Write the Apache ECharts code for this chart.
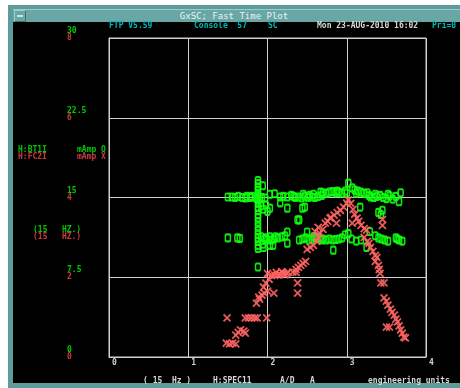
<!DOCTYPE html>
<html>
<head>
<meta charset="utf-8">
<script src="https://cdn.jsdelivr.net/npm/echarts@6/dist/echarts.min.js"></script>
<style>
  html, body { margin: 0; padding: 0; background: #ffffff; }
  #win { position: absolute; left: 8px; top: 5px; width: 452px; height: 383px; background: #5e9b9b; }
  #bar { position: absolute; left: 5px; top: 4px; width: 447px; height: 12px; background: #69a6a6;
         border-top: 1px solid #9ccccc; border-bottom: 1px solid #3f7373; }
  #btn { position: absolute; left: 6px; top: 5px; width: 10px; height: 10px; background: #69a6a6;
         border: 1px solid #9ccccc; border-right-color: #3f7373; border-bottom-color: #3f7373; }
  #btn::after { content: ""; position: absolute; left: 2px; top: 4px; width: 6px; height: 2px; background: #c8e6e6; }
  #title { position: absolute; left: 0; top: 5px; width: 452px; text-align: center; color: #eaf4f4;
           font: 9px "DejaVu Sans Mono", monospace; line-height: 12px; }
  #screen { position: absolute; left: 13px; top: 22px; width: 447px; height: 361px; background: #000000; }
  #chart { position: absolute; left: 0; top: 0; width: 460px; height: 388px; }
</style>
</head>
<body>
<div id="win"><div id="bar"></div><div id="btn"></div><div id="title">GxSC; Fast Time Plot</div></div>
<div id="screen"></div>
<div id="chart"></div>
<script>
// H:SPEC11 horizontal axis ticks
const xTicks = [0, 1, 2, 3, 4];
// H:BT1I axis (mAmp) and H:FC2I axis (mAmp) tick labels
const btTicks = [0, 7.5, 15, 22.5, 30];
const fcTicks = [0, 2, 4, 6, 8];

// H:BT1I samples [H:SPEC11, mAmp]
const bt1i = [
  [1.50,15.05],[1.55,15.05],[1.59,15.0],[1.63,15.1],[1.68,15.0],[1.72,14.95],[1.74,15.1],[1.78,15.0],
  [1.84,15.05],[1.88,15.2],[1.93,15.0],[1.97,14.95],[2.03,15.3],[2.09,15.35],[2.16,15.05],[2.20,15.1],
  [2.25,15.05],[2.35,15.0],[2.39,15.05],[2.43,14.95],[2.47,15.1],[2.51,15.0],[2.56,15.05],[2.60,15.0],
  [2.64,15.1],[2.67,15.5],[2.70,15.45],[2.74,15.4],[2.78,15.5],[2.82,15.55],[2.86,15.45],[2.90,15.5],
  [2.94,15.4],[2.98,15.6],[3.02,16.35],[3.07,15.9],[3.10,15.7],[3.14,15.6],[3.18,15.5],[3.22,15.4],
  [3.26,15.45],[3.30,15.05],[3.34,15.0],[3.38,15.1],[3.42,15.2],[3.46,15.0],[3.50,14.9],[3.54,15.15],
  [3.58,14.85],[3.62,15.1],[3.66,14.6],[3.68,15.45],
  [2.30,15.2],[2.33,15.1],[2.45,15.3],[2.53,15.2],[2.58,15.3],[2.69,15.2],[2.88,15.6],[3.00,15.4],
  [3.12,15.4],[3.28,15.2],[3.36,15.3],[3.52,15.3],[1.80,15.1],[1.90,15.0],[1.86,14.9],
  [1.88,16.6],[1.88,16.3],[1.88,16.0],[1.88,15.7],[1.88,15.4],[1.88,14.8],[1.88,14.5],[1.88,14.1],
  [1.88,13.8],[1.88,13.4],[1.88,13.1],[1.88,12.7],[1.88,12.3],[1.88,11.9],[1.88,11.5],[1.88,11.2],
  [1.88,10.9],[1.88,10.5],[1.88,10.2],[1.88,8.46],[1.94,16.1],
  [1.92,14.2],[1.95,13.9],[1.98,14.3],[2.00,13.7],[2.03,14.0],[2.16,14.5],[2.25,14.0],[2.38,12.9],
  [2.40,12.9],[2.44,14.0],[2.47,14.1],[3.17,14.1],[3.40,13.6],[3.43,13.4],[3.45,13.8],
  [1.50,11.2],[1.62,11.2],[1.65,11.15],[1.92,11.3],[1.96,11.1],[2.00,11.0],[2.03,11.3],[2.08,11.1],
  [2.13,11.2],[2.18,11.3],[2.22,11.4],[2.25,11.76],[2.40,11.0],[2.44,11.1],[2.48,11.2],[2.52,11.0],
  [2.50,11.76],[2.58,11.3],[2.62,11.2],[2.66,11.2],[2.70,11.1],[2.74,11.0],[2.78,11.1],[2.82,11.0],
  [2.86,11.05],[2.90,11.1],[2.94,11.2],[2.98,11.5],[3.02,11.6],[3.06,11.1],[3.12,10.9],[3.18,11.0],
  [3.29,11.8],[3.36,11.4],[3.44,11.1],[3.48,11.0],[3.52,10.9],[3.62,11.2],[3.66,11.0],[3.70,10.9],
  [1.94,10.6],[1.95,10.3],[2.03,10.5],[2.07,10.5],[2.25,10.7],[2.83,10.05],[3.25,10.3],
  [1.98,11.2],[2.05,11.0],[2.10,11.3],[2.56,11.1],[2.60,11.3],[2.68,11.0],[3.40,11.2],[3.64,11.1]
];

// H:FC2I samples [H:SPEC11, mAmp]
const fc2i = [
  [1.48,0.35],[1.52,0.33],[1.56,0.35],[1.60,0.33],
  [1.60,0.55],[1.63,0.62],[1.66,0.68],[1.70,0.65],[1.72,0.60],
  [1.49,0.98],[1.72,0.98],[1.76,0.98],[1.80,0.98],[1.84,0.98],[1.87,0.98],[1.99,0.98],
  [1.86,1.35],[1.90,1.45],[1.93,1.55],[1.96,1.60],[2.00,1.65],[1.89,1.50],
  [1.95,1.75],[1.98,1.85],[2.02,1.95],[2.05,2.05],[2.00,2.10],[2.08,1.60],
  [2.09,2.05],[2.13,2.06],[2.16,2.08],[2.20,2.10],[2.24,2.10],[2.26,2.12],
  [2.11,2.12],[2.18,2.14],[2.22,2.06],
  [2.32,2.13],[2.36,2.12],[2.38,1.86],[2.38,1.60],
  [2.36,2.20],[2.39,2.25],[2.42,2.30],[2.45,2.35],[2.48,2.40],
  [2.50,2.70],[2.54,2.75],[2.58,2.80],[2.62,2.90],[2.64,3.00],[2.60,3.15],[2.64,3.25],
  [2.66,3.10],[2.70,3.20],[2.73,3.36],[2.76,3.40],[2.80,3.50],[2.84,3.56],
  [2.88,3.62],[2.92,3.68],[2.96,3.76],[3.00,3.86],[3.02,3.94],
  [3.05,3.85],[3.08,3.70],[3.10,3.58],[3.13,3.48],[3.15,3.40],
  [3.07,3.36],[2.87,3.36],[2.79,3.48],
  [3.18,3.30],[3.22,3.22],[3.25,3.18],
  [3.22,3.00],[3.26,2.90],[3.28,2.85],
  [3.30,2.75],[3.33,2.65],[3.36,2.55],[3.38,2.50],[3.36,2.40],
  [3.40,2.30],[3.41,2.20],[3.42,2.10],[3.43,1.86],[3.47,1.86],
  [3.47,1.48],[3.50,1.40],[3.52,1.30],[3.55,1.20],[3.57,1.12],[3.60,1.05],[3.62,0.95],[3.64,0.88],
  [3.50,0.75],[3.54,0.75],[3.66,0.78],[3.68,0.68],[3.70,0.60],[3.72,0.50],[3.74,0.48],
  [3.45,3.45],[3.45,3.30]
];

const MONO = '"DejaVu Sans Mono", monospace';
const GREEN = '#10ff10';
const RED = '#ff6464';
const CYAN = '#00b8b8';
const GRID = '#d0d0d0';

function txt(x, y, s, color) {
  return { type: 'text', x: x, y: y, style: { text: s, fill: color, font: 'bold 8px ' + MONO, textVerticalAlign: 'middle' } };
}

const chart = echarts.init(document.getElementById('chart'), null, { renderer: 'canvas' });
chart.setOption({
  backgroundColor: 'transparent',
  animation: false,
  grid: { left: 109, top: 38, right: 34, bottom: 31, show: true, borderColor: GRID, borderWidth: 1 },
  xAxis: {
    type: 'value', min: xTicks[0], max: xTicks[xTicks.length - 1], interval: 1,
    axisLine: { show: true, lineStyle: { color: GRID } },
    axisTick: { show: false },
    splitLine: { show: true, lineStyle: { color: GRID, width: 1 } },
    axisLabel: { color: '#d0d0d0', fontFamily: MONO, fontSize: 8, fontWeight: 'bold', align: 'left', margin: 2, padding: [0, 0, 0, 3],
      formatter: v => xTicks.includes(v) ? String(v) : '' }
  },
  yAxis: [
    {
      type: 'value', min: btTicks[0], max: btTicks[btTicks.length - 1], interval: 7.5,
      axisLine: { show: true, lineStyle: { color: GRID } }, axisTick: { show: false },
      splitLine: { show: true, lineStyle: { color: GRID, width: 1 } },
      axisLabel: { color: '#00c800', fontFamily: MONO, fontSize: 8, fontWeight: 'bold', align: 'left', margin: 42,
        verticalAlign: 'middle', lineHeight: 14,
        formatter: v => btTicks.includes(v) ? String(v) + '\n ' : '' }
    },
    {
      type: 'value', position: 'left', min: fcTicks[0], max: fcTicks[fcTicks.length - 1], interval: 2,
      axisLine: { show: false }, axisTick: { show: false }, splitLine: { show: false },
      axisLabel: { color: '#c83c3c', fontFamily: MONO, fontSize: 8, fontWeight: 'bold', align: 'left', margin: 42,
        verticalAlign: 'middle',
        formatter: v => fcTicks.includes(v) ? String(v) : '' }
    }
  ],
  series: [
    {
      name: 'H:BT1I', type: 'scatter', yAxisIndex: 0, data: bt1i,
      symbol: 'roundRect', symbolSize: [5, 7],
      itemStyle: { color: 'rgba(0,0,0,0)', borderColor: GREEN, borderWidth: 1.8, opacity: 0.9 }
    },
    {
      name: 'H:FC2I', type: 'scatter', yAxisIndex: 1, data: fc2i,
      symbol: 'path://M0,0L10,10M10,0L0,10', symbolSize: [7, 7],
      itemStyle: { color: 'rgba(0,0,0,0)', borderColor: RED, borderWidth: 1.8, opacity: 0.9 }
    }
  ],
  graphic: [
    txt(109, 26, 'FTP V5.59', CYAN),
    txt(194, 26, 'Console  57', CYAN),
    txt(268, 26, 'SC', CYAN),
    txt(317, 26, 'Mon 23-AUG-2010 16:02', '#d8d8d8'),
    txt(432, 26, 'Pri=0', CYAN),
    txt(18, 150, 'H:BT1I', '#00c800'),
    txt(77, 150, 'mAmp O', '#00c800'),
    txt(18, 157, 'H:FC2I', '#c83c3c'),
    txt(77, 157, 'mAmp X', '#c83c3c'),
    txt(33, 230, '(15   HZ.)', '#00c800'),
    txt(33, 237, '(15   HZ.)', '#c83c3c'),
    txt(143, 381, '( 15  Hz )', '#d8d8d8'),
    txt(213, 381, 'H:SPEC11', '#d8d8d8'),
    txt(280, 381, 'A/D', '#d8d8d8'),
    txt(310, 381, 'A', '#d8d8d8'),
    txt(368, 381, 'engineering units', '#d8d8d8')
  ]
});
</script>
</body>
</html>
